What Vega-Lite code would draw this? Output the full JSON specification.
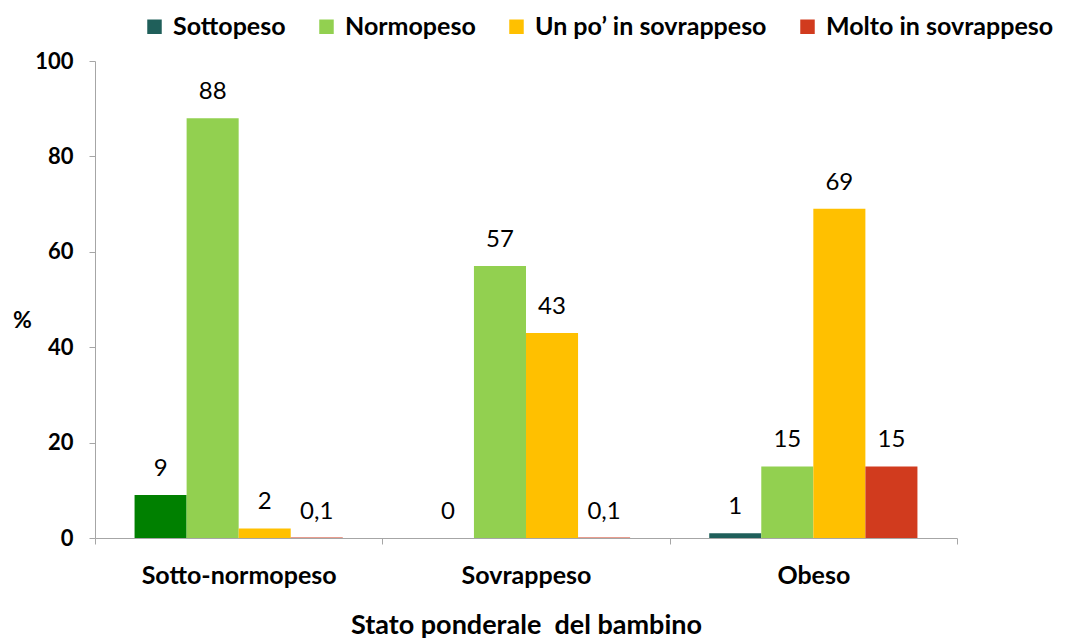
{
  "$schema": "https://vega.github.io/schema/vega-lite/v6.json",
  "width": 862,
  "height": 477,
  "autosize": {"type": "none"},
  "padding": {"left": 95, "top": 61, "right": 110, "bottom": 101},
  "background": "white",
  "config": {
    "view": {"stroke": null},
    "font": "Lato",
    "locale": {"number": {"decimal": ",", "thousands": ".", "grouping": [3], "currency": ["€", ""]}}
  },
  "data": {
    "values": [
      {"gruppo": "Sotto-normopeso", "categoria": "Sottopeso", "valore": 9},
      {"gruppo": "Sotto-normopeso", "categoria": "Normopeso", "valore": 88},
      {"gruppo": "Sotto-normopeso", "categoria": "Un po’ in sovrappeso", "valore": 2},
      {"gruppo": "Sotto-normopeso", "categoria": "Molto in sovrappeso", "valore": 0.1},
      {"gruppo": "Sovrappeso", "categoria": "Sottopeso", "valore": 0},
      {"gruppo": "Sovrappeso", "categoria": "Normopeso", "valore": 57},
      {"gruppo": "Sovrappeso", "categoria": "Un po’ in sovrappeso", "valore": 43},
      {"gruppo": "Sovrappeso", "categoria": "Molto in sovrappeso", "valore": 0.1},
      {"gruppo": "Obeso", "categoria": "Sottopeso", "valore": 1},
      {"gruppo": "Obeso", "categoria": "Normopeso", "valore": 15},
      {"gruppo": "Obeso", "categoria": "Un po’ in sovrappeso", "valore": 69},
      {"gruppo": "Obeso", "categoria": "Molto in sovrappeso", "valore": 15}
    ]
  },
  "encoding": {
    "x": {
      "field": "gruppo", "type": "nominal",
      "sort": ["Sotto-normopeso", "Sovrappeso", "Obeso"],
      "scale": {"paddingInner": 0, "paddingOuter": 0},
      "axis": {
        "title": "Stato ponderale\u00a0 del bambino",
        "titleFont": "Lato", "titleFontSize": 27, "titleFontWeight": "bold", "titleColor": "black",
        "titlePadding": 24,
        "labelAngle": 0, "labelFont": "Lato", "labelFontSize": 25, "labelFontWeight": "bold", "labelColor": "black",
        "labelPadding": 19, "labelLimit": 400,
        "domainColor": "#A6A6A6", "tickColor": "#A6A6A6", "tickBand": "extent", "tickSize": 6
      }
    },
    "xOffset": {
      "field": "categoria", "type": "nominal",
      "sort": ["Sottopeso", "Normopeso", "Un po’ in sovrappeso", "Molto in sovrappeso"],
      "scale": {"paddingInner": 0, "paddingOuter": 0.76}
    },
    "y": {
      "field": "valore", "type": "quantitative",
      "scale": {"domain": [0, 100]},
      "axis": {
        "values": [0, 20, 40, 60, 80, 100],
        "grid": false,
        "title": "%", "titleAngle": 0, "titleX": -73, "titleY": 259,
        "titleAlign": "center", "titleBaseline": "middle",
        "titleFont": "Lato", "titleFontSize": 23, "titleFontWeight": "bold", "titleColor": "black",
        "labelFont": "Lato", "labelFontSize": 22, "labelFontWeight": "bold", "labelColor": "black",
        "labelPadding": 16,
        "domainColor": "#A6A6A6", "tickColor": "#A6A6A6", "tickSize": 6
      }
    }
  },
  "layer": [
    {
      "mark": {"type": "bar"},
      "encoding": {
        "color": {
          "condition": {"test": "datum.gruppo === 'Sotto-normopeso' && datum.categoria === 'Sottopeso'", "value": "#008000"},
          "field": "categoria", "type": "nominal",
          "sort": ["Sottopeso", "Normopeso", "Un po’ in sovrappeso", "Molto in sovrappeso"],
          "scale": {
            "domain": ["Sottopeso", "Normopeso", "Un po’ in sovrappeso", "Molto in sovrappeso"],
            "range": ["#1F5F5A", "#92D050", "#FFC000", "#D13B1E"]
          },
          "legend": {
            "title": null, "orient": "none", "direction": "horizontal",
            "legendX": 47, "legendY": -47,
            "symbolType": "square", "symbolSize": 210, "symbolStrokeWidth": 0,
            "labelFont": "Lato", "labelFontSize": 25, "labelFontWeight": "bold", "labelColor": "black",
            "columnPadding": 28, "labelOffset": 6, "labelLimit": 400
          }
        }
      }
    },
    {
      "mark": {"type": "text", "baseline": "alphabetic", "dy": -19, "font": "Lato", "fontSize": 24, "color": "black"},
      "encoding": {
        "text": {"field": "valore", "type": "quantitative", "format": "~r"}
      }
    }
  ]
}
